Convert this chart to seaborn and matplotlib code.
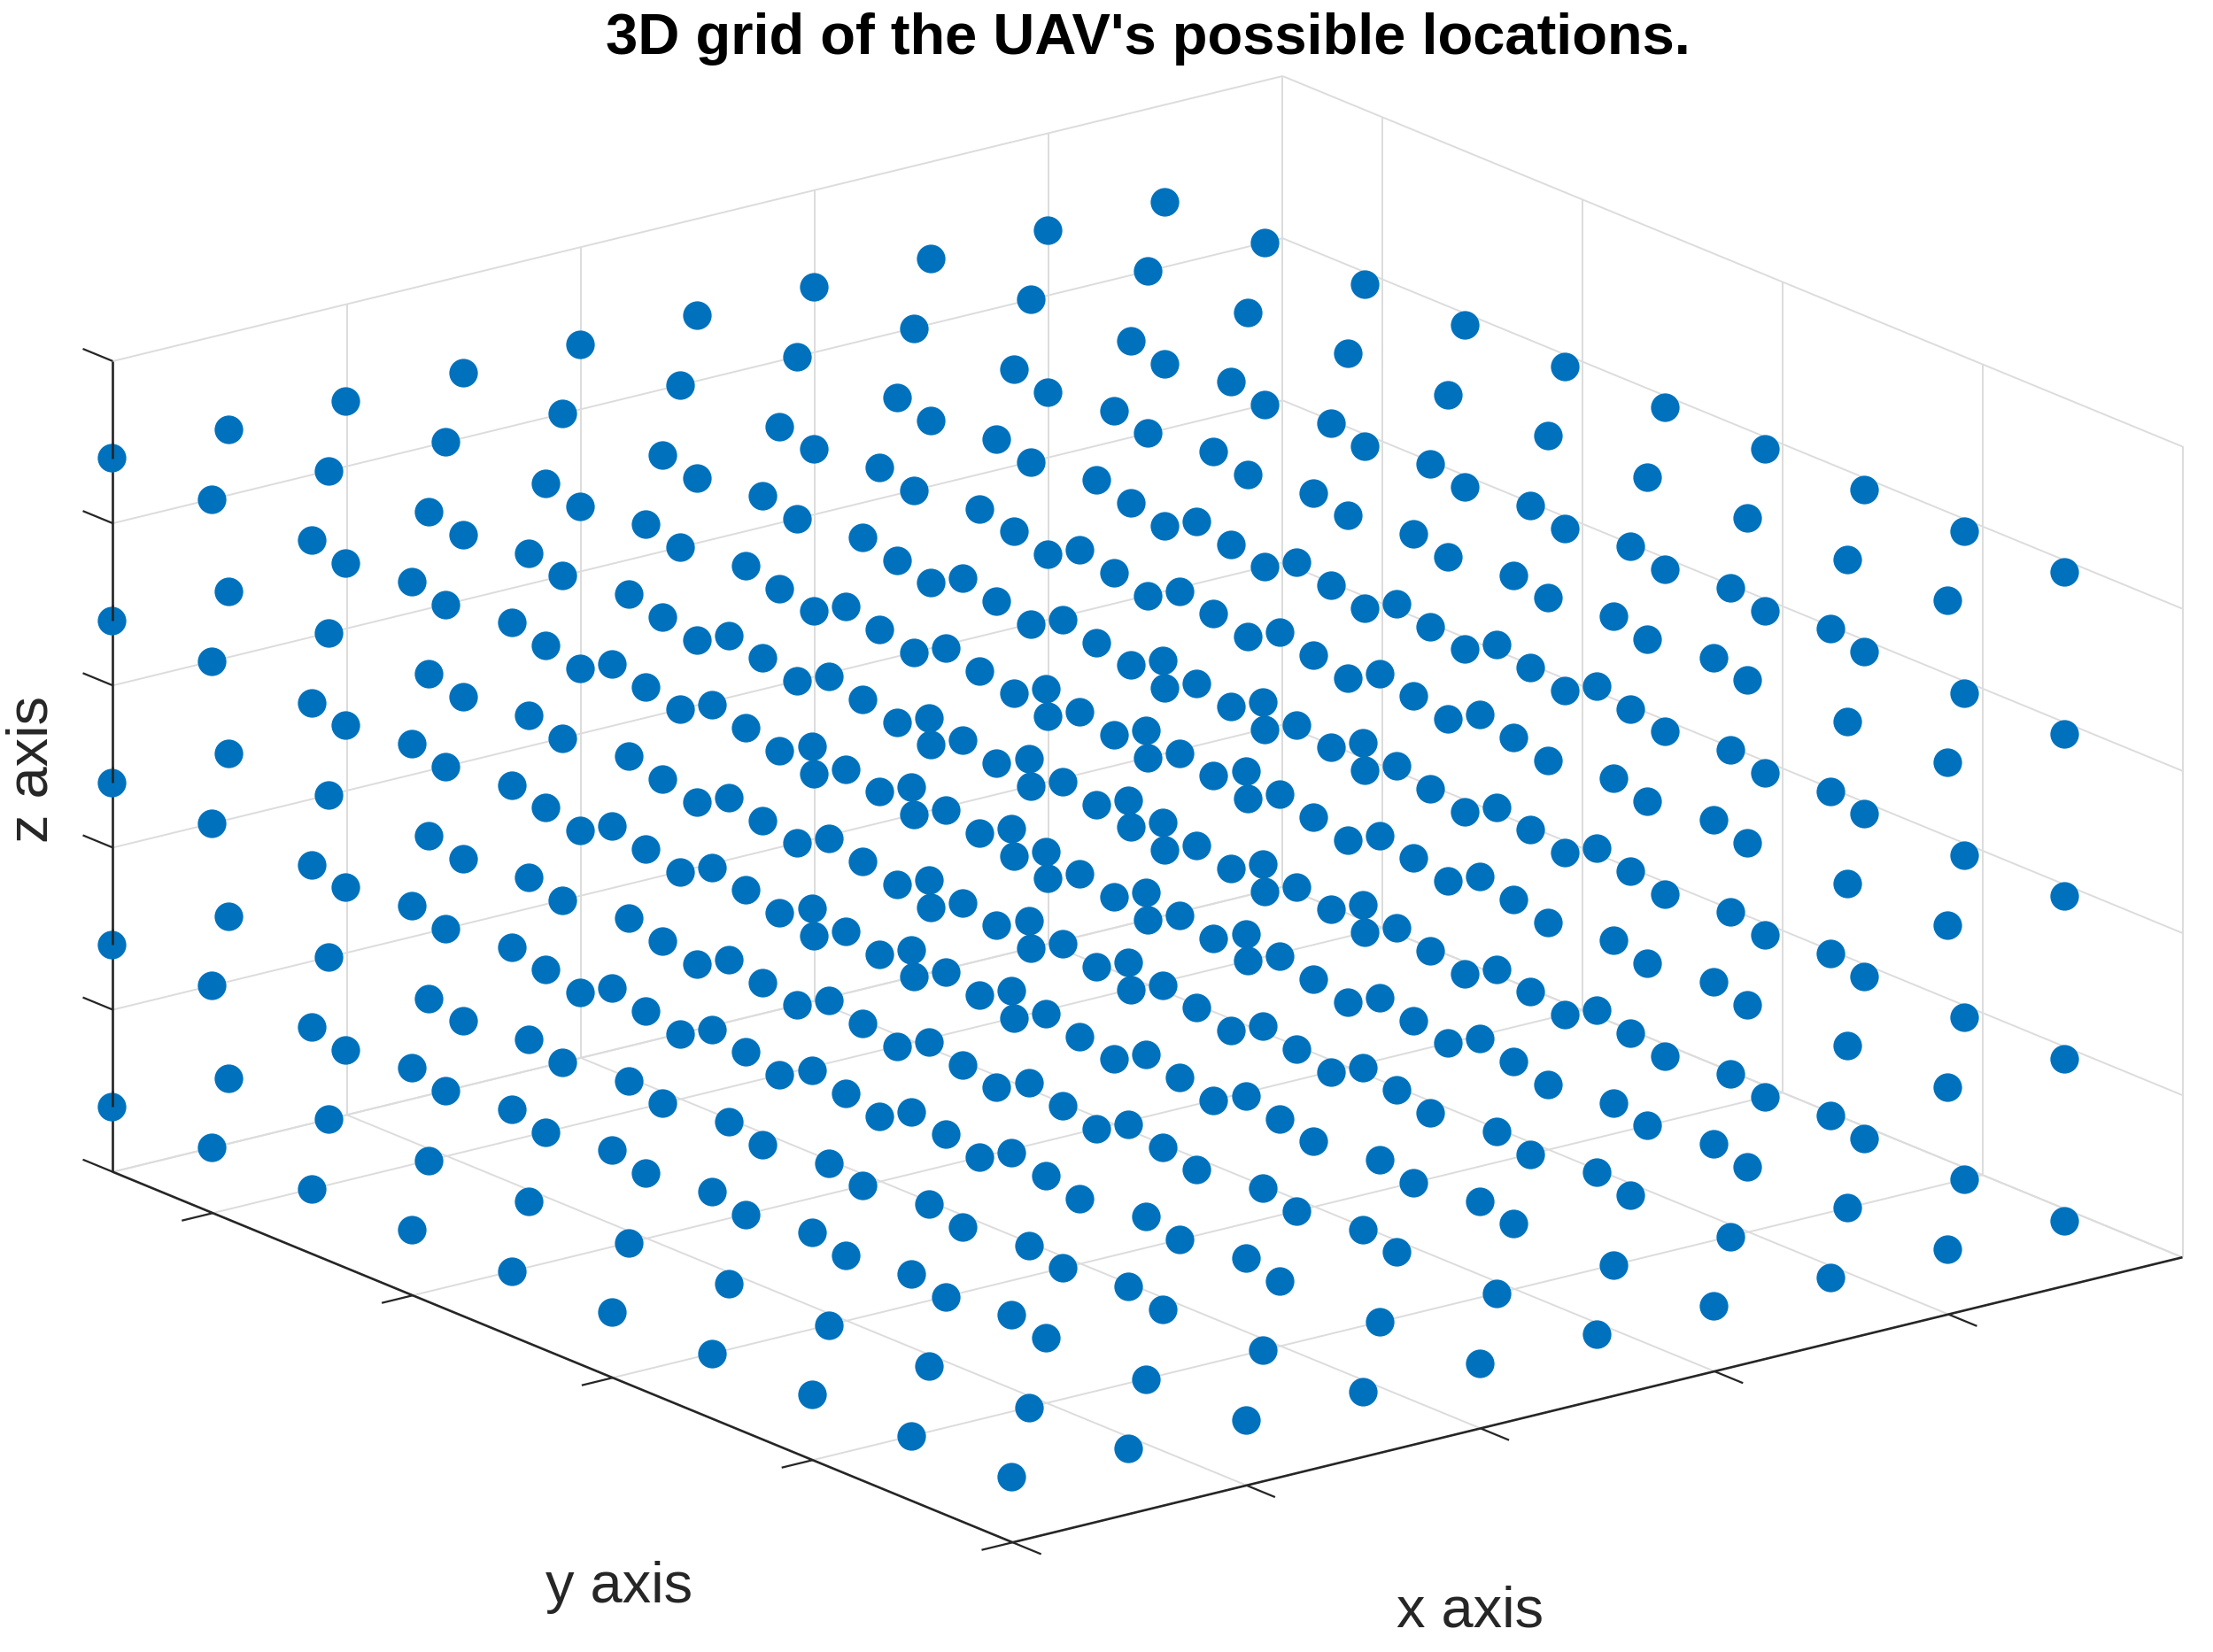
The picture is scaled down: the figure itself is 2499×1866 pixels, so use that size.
import numpy as np
import pandas as pd
import matplotlib
matplotlib.use("Agg")
import matplotlib.pyplot as plt
import seaborn as sns

# Grid of candidate locations
x_values = [0, 1, 2, 3, 4, 5, 6, 7, 8, 9]
y_values = [0.01, 1.01, 2.01, 3.01, 4.01, 5.01, 6.01, 7.01, 8.01, 9.01]
z_values = [0.4, 1.4, 2.4, 3.4, 4.4]

# Axis limits and ticks
x_lim = [0, 10]
y_lim = [0, 9]
z_lim = [0, 5]
x_ticks = [0, 2, 4, 6, 8]
y_ticks = [0, 2, 4, 6, 8]
z_ticks = [0, 1, 2, 3, 4, 5]

title_text = "3D grid of the UAV's possible locations."
x_label = "x axis"
y_label = "y axis"
z_label = "z axis"

# Orthographic view of the box, in figure pixels
ORIGIN = np.array([1143.5, 1742.2])
EX = np.array([132.1, -32.2])
EY = np.array([-112.9, -46.5])
EZ = np.array([0.0, -183.15])


def proj(x, y, z):
    return ORIGIN + np.multiply.outer(x, EX) + np.multiply.outer(y, EY) + np.multiply.outer(z, EZ)


sns.set_theme(style="white")
plt.rcParams["font.family"] = ["Liberation Sans", "DejaVu Sans"]

W, H, DPI = 2499, 1866, 100
fig = plt.figure(figsize=(W / DPI, H / DPI), dpi=DPI, facecolor="white")
ax = fig.add_axes([0, 0, 1, 1])
ax.set_xlim(0, W)
ax.set_ylim(H, 0)
ax.axis("off")

GRID = "#dcdcdc"
AXC = "#262626"
BLUE = "#0072BD"
GLW = 1.4
ALW = 1.9


def seg(p0, p1, color, lw, z):
    p = np.array([proj(*p0), proj(*p1)])
    ax.plot(p[:, 0], p[:, 1], color=color, lw=lw, zorder=z, solid_capstyle="butt")


x0, x1 = x_lim
y0, y1 = y_lim
z0, z1 = z_lim

# Back walls and floor
for xt in x_ticks + [x1]:
    seg((xt, y1, z0), (xt, y1, z1), GRID, GLW, 1)
    seg((xt, y0, z0), (xt, y1, z0), GRID, GLW, 1)
for yt in y_ticks + [y1]:
    seg((x1, yt, z0), (x1, yt, z1), GRID, GLW, 1)
    seg((x0, yt, z0), (x1, yt, z0), GRID, GLW, 1)
for zt in z_ticks:
    seg((x0, y1, zt), (x1, y1, zt), GRID, GLW, 1)
    seg((x1, y0, zt), (x1, y1, zt), GRID, GLW, 1)

# Axis lines
seg((x0, y0, z0), (x1, y0, z0), AXC, ALW, 2)
seg((x0, y0, z0), (x0, y1, z0), AXC, ALW, 2)
seg((x0, y1, z0), (x0, y1, z1), AXC, ALW, 2)

# Tick marks
for xt in x_ticks:
    seg((xt, y0, z0), (xt, y0 - 0.285, z0), AXC, ALW * 0.85, 2)
for yt in y_ticks:
    seg((x0, yt, z0), (x0 - 0.265, yt, z0), AXC, ALW * 0.85, 2)
for zt in z_ticks:
    seg((x0, y1, zt), (x0, y1 + 0.3, zt), AXC, ALW * 0.85, 2)

# Points
X, Y, Z = np.meshgrid(x_values, y_values, z_values, indexing="ij")
pts = proj(X.ravel(), Y.ravel(), Z.ravel())
df = pd.DataFrame({"sx": pts[:, 0], "sy": pts[:, 1]})
sns.scatterplot(data=df, x="sx", y="sy", color=BLUE, s=540, linewidth=0, ax=ax, zorder=3, legend=False)
ax.set_xlim(0, W)
ax.set_ylim(H, 0)
ax.axis("off")

# The z axis passes over the upper half of the markers it meets
for zv in z_values:
    seg((x0, y1, zv), (x0, y1, zv + 0.1), AXC, ALW, 4)

# Texts
ax.text(1296, 44, title_text, ha="center", va="center", fontsize=46.9, fontweight="bold", color="black")
ax.text(699, 1793, y_label, ha="center", va="center", fontsize=46.8, color=AXC)
ax.text(1660, 1820, x_label, ha="center", va="center", fontsize=46.8, color=AXC)
ax.text(36, 869, z_label, ha="center", va="center", rotation=90, fontsize=46.8, color=AXC)

fig.savefig("out.png", dpi=DPI, facecolor="white")
